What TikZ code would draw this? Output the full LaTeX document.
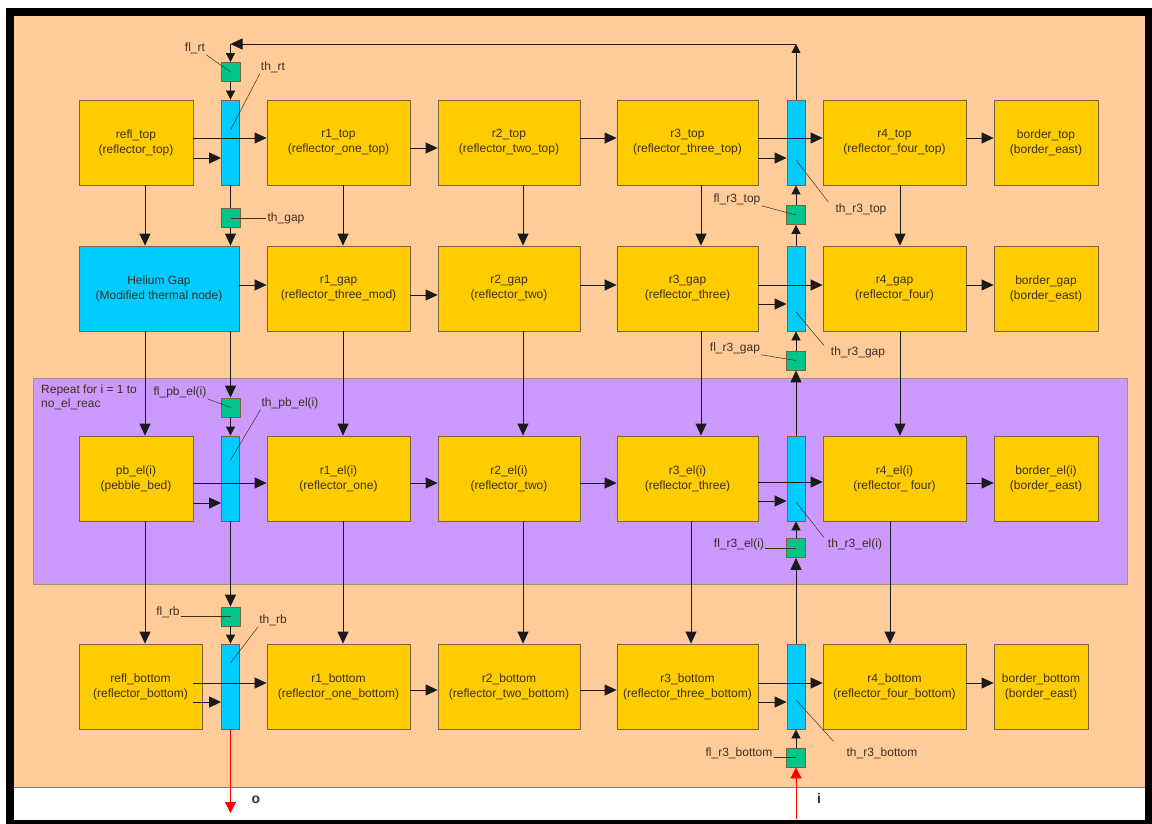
\documentclass[tikz,border=0pt]{standalone}
\usepackage{fontspec}
\setmainfont{Liberation Sans}
\usetikzlibrary{arrows.meta,positioning,calc}
\definecolor{cPeach}{HTML}{FFCC99}
\definecolor{cBox}{HTML}{FFCC00}
\definecolor{cBar}{HTML}{00CCFF}
\definecolor{cGrn}{HTML}{00C48C}
\definecolor{cPurp}{HTML}{CC99FF}
\definecolor{cEdge}{HTML}{7A6440}
\definecolor{cLine}{HTML}{1A1A1A}
\definecolor{cTxt}{HTML}{3A3020}
\tikzset{
  blk/.style  = {rectangle, draw=cEdge, fill=cBox, line width=0.8pt,
                 align=center, font=\fontsize{12}{15}\selectfont, text=cTxt,
                 inner sep=0pt, minimum height=85pt},
  hgb/.style  = {blk, fill=cBar},
  thb/.style  = {rectangle, draw=cEdge, fill=cBar, line width=0.8pt,
                 minimum width=18pt, minimum height=85pt, inner sep=0pt},
  flbox/.style = {rectangle, draw=cEdge, fill=cGrn, line width=0.8pt,
                 minimum width=19pt, minimum height=19pt, inner sep=0pt},
  band/.style = {rectangle, draw=cEdge!70, fill=cPurp, line width=0.6pt, inner sep=0pt},
  fl/.style   = {-{Triangle[length=12pt,width=11pt]}, draw=cLine, line width=0.8pt},
  fls/.style  = {-{Triangle[length=9pt,width=9pt]}, draw=cLine, line width=0.8pt},
  ln/.style   = {draw=cLine, line width=0.8pt},
  io/.style   = {-{Triangle[length=11pt,width=11pt]}, draw=red, line width=0.8pt},
  lead/.style = {draw=cTxt, line width=0.5pt},
  lab/.style  = {font=\fontsize{12}{14}\selectfont, text=cTxt, inner sep=1pt},
  iolab/.style = {font=\bfseries\fontsize{14}{14}\selectfont, text=cTxt},
}
\begin{document}
\begin{tikzpicture}[x=1pt,y=-1pt]
  \useasboundingbox (0,0) rectangle (1152,824);
  \fill[black] (6,8) rectangle (1152,824);
  \fill[cPeach] (14,16) rectangle (1145,787);
  \fill[white] (14,787) rectangle (1145,820);
  \draw[gray, line width=0.6pt] (14,787) -- (1145,787);

  \node[band, minimum width=1094pt, minimum height=206pt] (rep) at (580,481) {};
  \node[lab, align=left, anchor=north west] (replab) at (40,384) {Repeat for i = 1 to\\no\_el\_reac};

  \node[blk, minimum width=114pt] (rflt) at (136,142.5)   {refl\_top\\(reflector\_top)};
  \node[blk, minimum width=143pt] (r1t)  at (338.5,142.5) {r1\_top\\(reflector\_one\_top)};
  \node[blk, minimum width=142pt] (r2t)  at (509,142.5)   {r2\_top\\(reflector\_two\_top)};
  \node[blk, minimum width=141pt] (r3t)  at (687.5,142.5) {r3\_top\\(reflector\_three\_top)};
  \node[blk, minimum width=143pt] (r4t)  at (894.5,142.5) {r4\_top\\(reflector\_four\_top)};
  \node[blk, minimum width=104pt] (bdt)  at (1046,142.5)  {border\_top\\(border\_east)};

  \node[hgb, minimum width=160pt] (hel)  at (159,288.5)   {Helium Gap\\(Modified thermal node)};
  \node[blk, minimum width=143pt] (r1g)  at (338.5,288.5) {r1\_gap\\(reflector\_three\_mod)};
  \node[blk, minimum width=142pt] (r2g)  at (509,288.5)   {r2\_gap\\(reflector\_two)};
  \node[blk, minimum width=141pt] (r3g)  at (687.5,288.5) {r3\_gap\\(reflector\_three)};
  \node[blk, minimum width=143pt] (r4g)  at (894.5,288.5) {r4\_gap\\(reflector\_four)};
  \node[blk, minimum width=104pt] (bdg)  at (1046,288.5)  {border\_gap\\(border\_east)};

  \node[blk, minimum width=114pt] (pbe)  at (136,478.5)   {pb\_el(i)\\(pebble\_bed)};
  \node[blk, minimum width=143pt] (r1e)  at (338.5,478.5) {r1\_el(i)\\(reflector\_one)};
  \node[blk, minimum width=142pt] (r2e)  at (509,478.5)   {r2\_el(i)\\(reflector\_two)};
  \node[blk, minimum width=141pt] (r3e)  at (687.5,478.5) {r3\_el(i)\\(reflector\_three)};
  \node[blk, minimum width=143pt] (r4e)  at (894.5,478.5) {r4\_el(i)\\(reflector\_ four)};
  \node[blk, minimum width=104pt] (bde)  at (1046,478.5)  {border\_el(i)\\(border\_east)};

  \node[blk, minimum width=123pt] (rflb) at (140.5,686.5) {refl\_bottom\\(reflector\_bottom)};
  \node[blk, minimum width=143pt] (r1b)  at (338.5,686.5) {r1\_bottom\\(reflector\_one\_bottom)};
  \node[blk, minimum width=142pt] (r2b)  at (509,686.5)   {r2\_bottom\\(reflector\_two\_bottom)};
  \node[blk, minimum width=141pt] (r3b)  at (687.5,686.5) {r3\_bottom\\(reflector\_three\_bottom)};
  \node[blk, minimum width=143pt] (r4b)  at (894.5,686.5) {r4\_bottom\\(reflector\_four\_bottom)};
  \node[blk, minimum width=94pt]  (bdb)  at (1041,686.5)  {border\_bottom\\(border\_east)};

  \node[thb] (th1t) at (230.5,142.5) {};
  \node[thb] (th1e) at (230.5,478.5) {};
  \node[thb] (th1b) at (230.5,686.5) {};
  \node[thb] (th3t) at (796,142.5) {};
  \node[thb] (th3g) at (796,288.5) {};
  \node[thb] (th3e) at (796,478.5) {};
  \node[thb] (th3b) at (796,686.5) {};

  \node[flbox] (flrt)  at (230.5,72) {};
  \node[flbox] (thgap) at (230.5,218) {};
  \node[flbox] (flpb)  at (230.5,407.5) {};
  \node[flbox] (flrb)  at (230.5,616.5) {};
  \node[flbox] (fl3t)  at (796,215) {};
  \node[flbox] (fl3g)  at (796,360.5) {};
  \node[flbox] (fl3e)  at (796,548) {};
  \node[flbox] (fl3b)  at (796,757.5) {};

  \coordinate (ret)  at (796,44);
  \coordinate (rel)  at (230.5,44);
  \coordinate (outp) at (230.5,813);
  \coordinate (inp)  at (796,819);
  \coordinate (cA)  at (145,0);
  \coordinate (c1)  at (343,0);
  \coordinate (c2)  at (523,0);
  \coordinate (c3)  at (701,0);
  \coordinate (c3b) at (691,0);
  \coordinate (c4)  at (900,0);
  \coordinate (c4b) at (890,0);

  \draw[fl] ([yshift=4.5pt]rflt.east) -- ([yshift=4.5pt]r1t.west);
  \draw[fl] ([yshift=-15.5pt]rflt.east) -- ([yshift=-15.5pt]th1t.west);
  \draw[fl] ([yshift=-5.5pt]r1t.east) -- ([yshift=-5.5pt]r2t.west);
  \draw[fl] ([yshift=4.5pt]r2t.east) -- ([yshift=4.5pt]r3t.west);
  \draw[fl] ([yshift=4.5pt]r3t.east) -- ([yshift=4.5pt]r4t.west);
  \draw[fl] ([yshift=-15.5pt]r3t.east) -- ([yshift=-15.5pt]th3t.west);
  \draw[fl] ([yshift=4.5pt]r4t.east) -- ([yshift=4.5pt]bdt.west);

  \draw[fl] ([yshift=3.5pt]hel.east) -- ([yshift=3.5pt]r1g.west);
  \draw[fl] ([yshift=-6.5pt]r1g.east) -- ([yshift=-6.5pt]r2g.west);
  \draw[fl] ([yshift=3.5pt]r2g.east) -- ([yshift=3.5pt]r3g.west);
  \draw[fl] ([yshift=3.5pt]r3g.east) -- ([yshift=3.5pt]r4g.west);
  \draw[fl] ([yshift=-15.5pt]r3g.east) -- ([yshift=-15.5pt]th3g.west);
  \draw[fl] ([yshift=3.5pt]r4g.east) -- ([yshift=3.5pt]bdg.west);

  \draw[fl] ([yshift=-4.5pt]pbe.east) -- ([yshift=-4.5pt]r1e.west);
  \draw[fl] ([yshift=-24.5pt]pbe.east) -- ([yshift=-24.5pt]th1e.west);
  \draw[fl] ([yshift=-4.5pt]r1e.east) -- ([yshift=-4.5pt]r2e.west);
  \draw[fl] ([yshift=-4.5pt]r2e.east) -- ([yshift=-4.5pt]r3e.west);
  \draw[fl] ([yshift=-3.5pt]r3e.east) -- ([yshift=-3.5pt]r4e.west);
  \draw[fl] ([yshift=-22.5pt]r3e.east) -- ([yshift=-22.5pt]th3e.west);
  \draw[fl] ([yshift=-4.5pt]r4e.east) -- ([yshift=-4.5pt]bde.west);

  \draw[fl] ([xshift=-9pt,yshift=3.5pt]rflb.east) -- ([yshift=3.5pt]r1b.west);
  \draw[fl] ([xshift=-9pt,yshift=-15.5pt]rflb.east) -- ([yshift=-15.5pt]th1b.west);
  \draw[fl] ([yshift=-3.5pt]r1b.east) -- ([yshift=-3.5pt]r2b.west);
  \draw[fl] ([yshift=-3.5pt]r2b.east) -- ([yshift=-3.5pt]r3b.west);
  \draw[fl] ([yshift=3.5pt]r3b.east) -- ([yshift=3.5pt]r4b.west);
  \draw[fl] ([yshift=-15.5pt]r3b.east) -- ([yshift=-15.5pt]th3b.west);
  \draw[fl] ([yshift=3.5pt]r4b.east) -- ([yshift=3.5pt]bdb.west);

  \draw[fl] (rflt.south -| cA) -- (hel.north -| cA);
  \draw[fl] (hel.south -| cA) -- (pbe.north -| cA);
  \draw[fl] (pbe.south -| cA) -- (rflb.north -| cA);
  \draw[fl] (r1t.south -| c1) -- (r1g.north -| c1);
  \draw[fl] (r1g.south -| c1) -- (r1e.north -| c1);
  \draw[fl] (r1e.south -| c1) -- (r1b.north -| c1);
  \draw[fl] (r2t.south -| c2) -- (r2g.north -| c2);
  \draw[fl] (r2g.south -| c2) -- (r2e.north -| c2);
  \draw[fl] (r2e.south -| c2) -- (r2b.north -| c2);
  \draw[fl] (r3t.south -| c3) -- (r3g.north -| c3);
  \draw[fl] (r3g.south -| c3) -- (r3e.north -| c3);
  \draw[fl] (r3e.south -| c3b) -- (r3b.north -| c3b);
  \draw[fl] (r4t.south -| c4) -- (r4g.north -| c4);
  \draw[fl] (r4g.south -| c4) -- (r4e.north -| c4);
  \draw[fl] (r4e.south -| c4b) -- (r4b.north -| c4b);

  \draw[fls] (th3t.north) -- (ret);
  \draw[fl] (ret) -- (rel);
  \draw[fls] (rel) -- (flrt.north);
  \draw[fls] (flrt.south) -- (th1t.north);
  \draw[ln] (th1t.south) -- (thgap.north);
  \draw[fl] (thgap.south) -- (hel.north -| thgap);
  \draw[fl] (hel.south -| flpb) -- (flpb.north);
  \draw[fls] (flpb.south) -- (th1e.north);
  \draw[fl] (th1e.south) -- (flrb.north);
  \draw[fls] (flrb.south) -- (th1b.north);
  \draw[io] (th1b.south) -- (outp);

  \draw[io] (inp) -- (fl3b.south);
  \draw[fls] (fl3b.north) -- (th3b.south);
  \draw[fl] (th3b.north) -- (fl3e.south);
  \draw[fls] (fl3e.north) -- (th3e.south);
  \draw[fl] (th3e.north) -- (fl3g.south);
  \draw[fls] (fl3g.north) -- (th3g.south);
  \draw[fls] (th3g.north) -- (fl3t.south);
  \draw[fls] (fl3t.north) -- (th3t.south);

  \node[lab] (lflrt)  at (195,48)  {fl\_rt};
  \node[lab] (lthrt)  at (273,67)  {th\_rt};
  \node[lab] (lthgap) at (286,218) {th\_gap};
  \node[lab] (lflpb)  at (180,392) {fl\_pb\_el(i)};
  \node[lab] (lthpb)  at (290,403) {th\_pb\_el(i)};
  \node[lab] (lflrb)  at (168,612) {fl\_rb};
  \node[lab] (lthrb)  at (273,620) {th\_rb};
  \node[lab] (lfl3t)  at (737,199) {fl\_r3\_top};
  \node[lab] (lth3t)  at (861,209) {th\_r3\_top};
  \node[lab] (lfl3g)  at (735,348) {fl\_r3\_gap};
  \node[lab] (lth3g)  at (858,352) {th\_r3\_gap};
  \node[lab] (lfl3e)  at (739,544) {fl\_r3\_el(i)};
  \node[lab] (lth3e)  at (855,544) {th\_r3\_el(i)};
  \node[lab] (lfl3b)  at (739,753) {fl\_r3\_bottom};
  \node[lab] (lth3b)  at (882,753) {th\_r3\_bottom};
  \node[iolab] (olab) at (256,800) {o};
  \node[iolab] (ilab) at (819,798) {i};

  \draw[lead] (lflrt.south east) -- (flrt.center);
  \draw[lead] (lthrt.south west) -- ([yshift=12.5pt]th1t.center);
  \draw[lead] (thgap.center) -- (lthgap.west);
  \draw[lead] (lflpb.south east) -- (flpb.center);
  \draw[lead] (lthpb.south west) -- ([yshift=18.5pt]th1e.center);
  \draw[lead] (lflrb.east |- flrb.center) -- (flrb.center);
  \draw[lead] (lthrb.south west) -- ([yshift=23.5pt]th1b.center);
  \draw[lead] (lfl3t.south east) -- (fl3t.center);
  \draw[lead] ([xshift=-6pt]lth3t.north west) -- ([yshift=-17.5pt]th3t.center);
  \draw[lead] (lfl3g.south east) -- (fl3g.center);
  \draw[lead] ([xshift=-6pt]lth3g.north west) -- ([yshift=-23.5pt]th3g.center);
  \draw[lead] (lfl3e.east |- fl3e.center) -- (fl3e.center);
  \draw[lead] ([xshift=-3pt]lth3e.north west) -- ([yshift=-23.5pt]th3e.center);
  \draw[lead] (lfl3b.east |- fl3b.center) -- (fl3b.center);
  \draw[lead] ([xshift=-12pt,yshift=5pt]lth3b.north west) -- ([yshift=-13.5pt]th3b.center);
\end{tikzpicture}
\end{document}
